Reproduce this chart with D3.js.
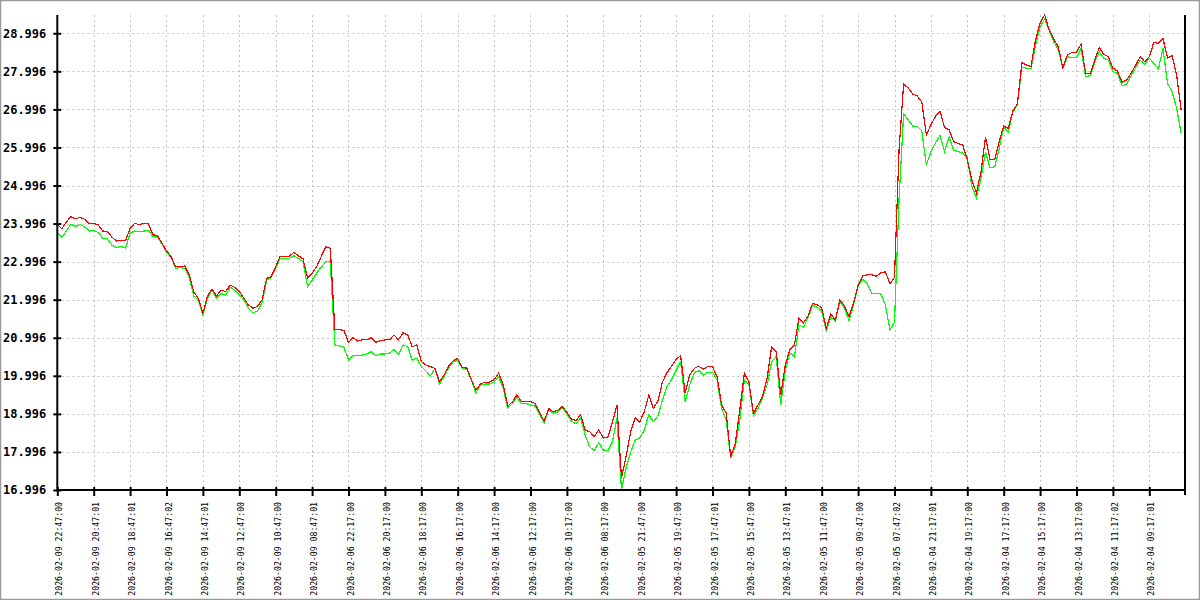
<!DOCTYPE html>
<html><head><meta charset="utf-8">
<script src="https://cdn.jsdelivr.net/npm/d3@7"></script>
<style>body{margin:0;background:#fff}svg{display:block}</style>
</head><body><svg id="chart" width="1200" height="600"></svg>
<script>
// ---- data (index 0 = newest, left side) ----
const redSeries = [
23.98,23.86,24.04,24.18,24.12,24.16,24.11,24.00,24.00,23.96,
23.80,23.79,23.64,23.54,23.56,23.55,23.87,24.00,23.97,24.00,
24.00,23.70,23.68,23.48,23.28,23.13,22.86,22.86,22.88,22.65,
22.20,22.03,21.64,22.09,22.28,22.09,22.25,22.21,22.38,22.32,
22.21,22.03,21.86,21.77,21.82,21.99,22.56,22.60,22.86,23.14,
23.14,23.14,23.24,23.15,23.07,22.56,22.69,22.86,23.13,23.39,
23.35,21.22,21.21,21.19,20.87,21.00,20.91,20.94,20.94,21.00,
20.88,20.92,20.94,20.94,21.07,20.94,21.13,21.07,20.76,20.81,
20.37,20.28,20.24,20.19,19.84,20.02,20.25,20.39,20.45,20.21,
20.20,19.89,19.62,19.78,19.83,19.83,19.89,20.07,19.76,19.20,
19.31,19.49,19.32,19.32,19.32,19.27,19.03,18.80,19.14,19.05,
19.09,19.19,19.03,18.86,18.82,18.98,18.57,18.53,18.40,18.57,
18.36,18.38,18.78,19.22,17.31,17.87,18.52,18.89,18.78,19.05,
19.49,19.14,19.33,19.83,20.08,20.25,20.43,20.52,19.54,20.02,
20.19,20.25,20.17,20.24,20.24,19.97,19.23,19.02,17.87,18.22,
19.10,20.06,19.84,19.01,19.23,19.45,19.93,20.76,20.63,19.49,
20.28,20.69,20.81,21.51,21.39,21.57,21.90,21.86,21.78,21.24,
21.62,21.46,21.99,21.83,21.55,21.91,22.38,22.62,22.65,22.65,
22.61,22.70,22.73,22.41,22.59,25.93,27.66,27.56,27.40,27.35,
27.19,26.32,26.59,26.81,26.95,26.52,26.46,26.15,26.10,26.06,
25.67,25.14,24.80,25.35,26.27,25.67,25.67,26.15,26.56,26.50,
26.95,27.14,28.22,28.16,28.12,28.82,29.27,29.48,29.08,28.84,
28.64,28.08,28.43,28.49,28.50,28.71,27.94,27.93,28.29,28.62,
28.44,28.38,28.08,28.00,27.71,27.77,27.94,28.16,28.38,28.25,
28.38,28.76,28.73,28.86,28.35,28.41,27.90,26.98
];
const greenSeries = [
23.76,23.64,23.80,23.98,23.92,23.97,23.91,23.82,23.81,23.76,
23.61,23.59,23.43,23.37,23.39,23.35,23.75,23.80,23.78,23.80,
23.82,23.65,23.64,23.46,23.24,23.11,22.82,22.84,22.82,22.58,
22.09,21.99,21.59,22.03,22.25,22.03,22.16,22.12,22.32,22.25,
22.12,21.99,21.77,21.65,21.70,21.91,22.51,22.58,22.82,23.08,
23.08,23.08,23.15,23.08,22.99,22.34,22.51,22.69,22.85,22.99,
22.99,20.81,20.78,20.75,20.41,20.54,20.54,20.54,20.57,20.63,
20.52,20.57,20.57,20.59,20.69,20.56,20.81,20.76,20.41,20.46,
20.24,20.13,19.99,20.19,19.78,19.97,20.20,20.36,20.41,20.19,
20.17,19.90,19.54,19.76,19.78,19.78,19.83,19.97,19.67,19.15,
19.26,19.43,19.27,19.27,19.23,19.20,18.99,18.75,19.10,19.02,
19.05,19.16,18.99,18.81,18.73,18.90,18.44,18.13,18.03,18.24,
18.05,18.03,18.27,18.88,17.01,17.57,17.99,18.31,18.36,18.57,
18.97,18.79,18.94,19.36,19.71,19.89,20.15,20.37,19.32,19.76,
20.08,20.13,20.02,20.09,20.09,19.89,19.14,18.84,17.83,18.13,
18.84,19.89,19.76,18.94,19.14,19.41,19.76,20.37,20.50,19.23,
20.15,20.60,20.50,21.33,21.27,21.52,21.86,21.80,21.70,21.18,
21.53,21.44,21.94,21.78,21.44,21.86,22.36,22.53,22.41,22.16,
22.16,22.15,21.86,21.20,21.41,24.62,26.88,26.72,26.56,26.55,
26.43,25.54,25.88,26.11,26.32,25.89,26.27,25.93,25.89,25.85,
25.72,24.98,24.67,25.19,25.88,25.46,25.49,25.97,26.54,26.41,
26.92,27.11,28.11,28.08,28.06,28.69,29.16,29.37,29.08,28.77,
28.56,28.08,28.38,28.35,28.35,28.60,27.86,27.88,28.24,28.51,
28.34,28.29,27.99,27.94,27.62,27.65,27.88,28.09,28.29,28.18,
28.34,28.21,28.06,28.60,27.68,27.46,27.03,26.37
];
const yTickValues = [16.996,17.996,18.996,19.996,20.996,21.996,22.996,23.996,24.996,25.996,26.996,27.996,28.996];
const xTickLabels = [
"2026-02-09 22:47:00","2026-02-09 20:47:01","2026-02-09 18:47:01","2026-02-09 16:47:02",
"2026-02-09 14:47:01","2026-02-09 12:47:00","2026-02-09 10:47:00","2026-02-09 08:47:01",
"2026-02-06 22:17:00","2026-02-06 20:17:00","2026-02-06 18:17:00","2026-02-06 16:17:00",
"2026-02-06 14:17:00","2026-02-06 12:17:00","2026-02-06 10:17:00","2026-02-06 08:17:00",
"2026-02-05 21:47:00","2026-02-05 19:47:00","2026-02-05 17:47:01","2026-02-05 15:47:00",
"2026-02-05 13:47:01","2026-02-05 11:47:00","2026-02-05 09:47:00","2026-02-05 07:47:02",
"2026-02-04 21:17:01","2026-02-04 19:17:00","2026-02-04 17:17:00","2026-02-04 15:17:00",
"2026-02-04 13:17:00","2026-02-04 11:17:02","2026-02-04 09:17:01"
];
const xTickEvery = 8;

// ---- layout ----
const W = 1200, H = 600;
const L = 57.3, R = 1185, T = 15, B = 490, STEP = 4.55;
const svg = d3.select('#chart');

svg.append('rect').attr('x',0.5).attr('y',0.5).attr('width',W-1).attr('height',H-1)
  .attr('fill','#fff').attr('stroke','#9a9a9a').attr('stroke-width',1.5);

const n = redSeries.length;
const x = d3.scaleLinear().domain([0, n-1]).range([L, L + (n-1)*STEP]);
const y = d3.scaleLinear().domain([16.996, 29.476]).range([B, T]);
const xTickIdx = xTickLabels.map((_, i) => i * xTickEvery);

// grid
const grid = svg.append('g').attr('stroke','#c4c4c4').attr('stroke-width',1).attr('stroke-dasharray','2,3');
grid.selectAll('line.h').data(yTickValues.slice(1)).enter().append('line')
  .attr('x1',L).attr('x2',R).attr('y1',d=>Math.round(y(d))+0.5).attr('y2',d=>Math.round(y(d))+0.5);
grid.selectAll('line.v').data(xTickIdx.slice(1)).enter().append('line')
  .attr('y1',T).attr('y2',B).attr('x1',d=>Math.round(x(d))+0.5).attr('x2',d=>Math.round(x(d))+0.5);

// lines
const line = d3.line().x((d,i)=>x(i)).y(d=>y(d));
svg.append('path').datum(greenSeries).attr('fill','none').attr('stroke','#00ff00')
  .attr('stroke-width',1.2).attr('shape-rendering','crispEdges').attr('d',line);
svg.append('path').datum(redSeries).attr('fill','none').attr('stroke','#ff0000')
  .attr('stroke-width',1.2).attr('shape-rendering','crispEdges').attr('d',line);

// axes
const yAxis = d3.axisLeft(y).tickValues(yTickValues).tickFormat(d3.format('.3f')).tickSizeOuter(0).tickSizeInner(4).tickPadding(7);
const gy = svg.append('g').attr('transform',`translate(${L},0)`).call(yAxis);
gy.select('.domain').remove();
gy.selectAll('.tick line').attr('x1',-4).attr('x2',4).attr('stroke','#000').attr('stroke-width',2);
gy.selectAll('.tick text').attr('x',-11).attr('font-family','"DejaVu Sans Mono", monospace')
  .attr('font-weight','bold').attr('font-size',12).attr('fill','#000');

const xAxis = d3.axisBottom(x).tickValues(xTickIdx).tickFormat((d,i)=>xTickLabels[i]).tickSizeOuter(0).tickSizeInner(6);
const gx = svg.append('g').attr('transform',`translate(0,${B})`).call(xAxis);
gx.select('.domain').remove();
gx.selectAll('.tick line').attr('y1',-3).attr('y2',6).attr('stroke','#000').attr('stroke-width',2);
gx.selectAll('.tick text').attr('x',0).attr('y',0).attr('dy',0)
  .attr('transform','translate(4.5,12) rotate(-90)').attr('text-anchor','end')
  .attr('font-family','"DejaVu Sans Mono", monospace').attr('font-size',8.2).attr('fill','#000');

// frame lines
const fr = svg.append('g').attr('stroke','#000').attr('stroke-width',2);
fr.append('line').attr('x1',L).attr('x2',L).attr('y1',T).attr('y2',B+1);
fr.append('line').attr('x1',L).attr('x2',R).attr('y1',B).attr('y2',B);
fr.append('line').attr('x1',R).attr('x2',R).attr('y1',T).attr('y2',B+5);
</script>
</body></html>
